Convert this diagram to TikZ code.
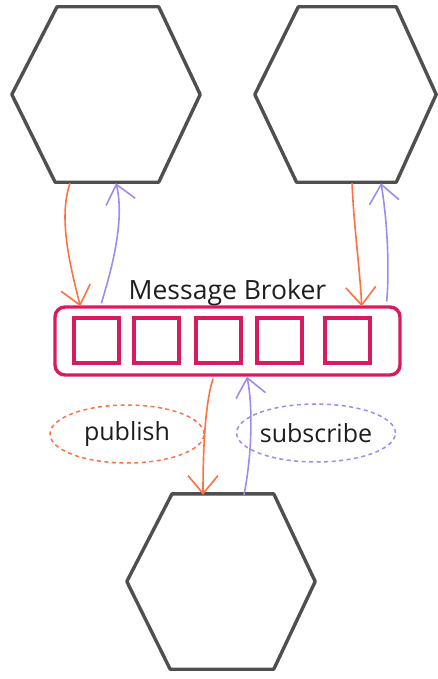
\documentclass[tikz,border=0pt]{standalone}
\usepackage{fontspec}
\setmainfont{Open Sans}
\usetikzlibrary{positioning,arrows.meta,shapes.geometric,calc}
\definecolor{hexgray}{HTML}{4F4F4F}
\definecolor{brokerred}{HTML}{D81B60}
\definecolor{puborange}{HTML}{FF7043}
\definecolor{subviolet}{HTML}{9C8CF0}
\definecolor{inkblack}{HTML}{1E1E1E}

\begin{document}
\begin{tikzpicture}[x=1pt, y=-1pt,
    hexSlot/.style={rectangle, inner sep=0pt, minimum width=#1, minimum height=175pt},
    hexLine/.style={draw=hexgray, line width=3.4pt, line join=round, line cap=round},
    brokerBox/.style={rectangle, rounded corners=10pt, draw=brokerred, line width=3.4pt, minimum width=345pt, minimum height=68pt},
    queueSlot/.style={rectangle, draw=brokerred, line width=3.2pt, minimum size=45pt, inner sep=0pt},
    pubArrow/.style={-{Straight Barb[length=18pt, width=30pt]}, draw=puborange, line width=1.6pt},
    subArrow/.style={-{Straight Barb[length=18pt, width=30pt]}, draw=subviolet, line width=1.6pt},
    tagBubble/.style={ellipse, dash pattern=on 4pt off 3.5pt, line width=1.5pt, text=inkblack, font=\fontsize{25}{30}\selectfont, inner sep=0pt, minimum width=154pt, minimum height=58pt}
]
    \useasboundingbox (0,0) rectangle (437,679);

    % services
    \node[hexSlot=188pt] (svcA) at (106,94.5) {};
    \node[hexSlot=181pt] (svcB) at (345.5,94.5) {};
    \node[hexSlot=188pt] (svcC) at (221,581.5) {};
    \foreach \svc in {svcA,svcB,svcC}
        \draw[hexLine] (\svc.west) -- ($(\svc.north west)!0.24!(\svc.north east)$) -- ($(\svc.north west)!0.78!(\svc.north east)$) -- (\svc.east) -- ($(\svc.south west)!0.78!(\svc.south east)$) -- ($(\svc.south west)!0.23!(\svc.south east)$) -- cycle;

    % broker with its queue
    \node[brokerBox] (broker) at (227.5,341) {};
    \foreach \qx [count=\qi] in {96.5,156.5,218.5,279.5,347.5}
        \node[queueSlot] (slot\qi) at (\qx,340.5) {};
    \node[font=\fontsize{26.5}{31}\selectfont, text=inkblack, anchor=base] (brokerTitle) at (227.5,299) {Message Broker};

    \node[tagBubble, draw=puborange] (pubTag) at (127,434) {publish};
    \node[tagBubble, draw=subviolet, minimum width=156pt] (subTag) at (316,433) {subscribe};

    \draw[pubArrow] ($(svcA.south)+(-36,1)$) .. controls +(-12,35) and +(-10,-40) .. ($(broker.north west)+(27,1)$);
    \draw[subArrow] ($(broker.north west)+(48,-2)$) .. controls +(14,-45) and +(8,32) .. ($(svcA.south)+(10,1)$);
    \draw[pubArrow] ($(svcB.south)+(6.5,1)$) .. controls +(2,45) and +(-2,-40) .. ($(broker.north east)+(-40,1)$);
    \draw[subArrow] ($(broker.north east)+(-15,-4)$) .. controls +(3,-35) and +(6,35) .. ($(svcB.south)+(35.5,1)$);
    \draw[pubArrow] ($(broker.south)+(-14.5,2)$) .. controls +(-8,25) and +(0,-45) .. ($(svcC.north)+(-18,1)$);
    \draw[subArrow] ($(svcC.north)+(23,1)$) .. controls +(8,-40) and +(6,30) .. ($(broker.south)+(19.5,0)$);
\end{tikzpicture}
\end{document}
